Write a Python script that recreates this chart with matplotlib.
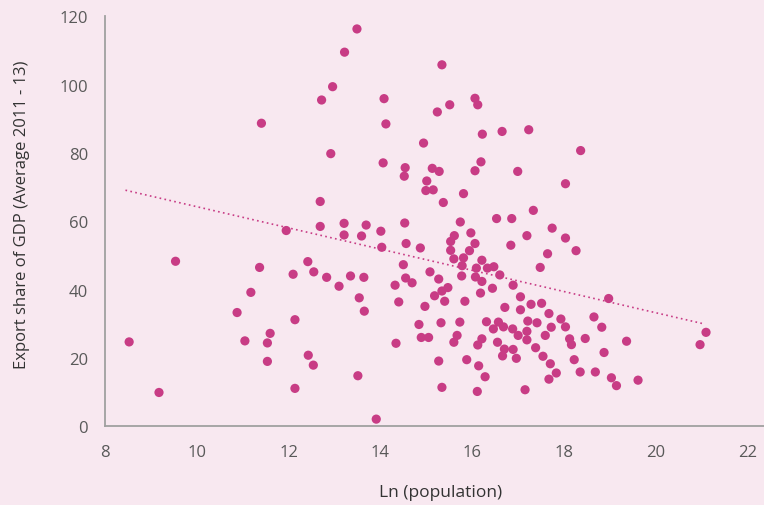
import numpy as np
import matplotlib
matplotlib.use("Agg")
import matplotlib.pyplot as plt

# Ln(population)
ln_pop = [
    8.53, 9.18, 9.54, 11.41, 12.72, 12.69, 11.95, 12.69, 11.37, 12.42,
    12.10, 12.55, 12.83, 11.18, 10.88, 12.14, 11.60, 11.05, 11.54, 11.54,
    12.43, 12.54, 12.14, 13.49, 13.22, 15.34, 12.96, 14.08, 15.51, 15.24,
    16.06, 16.12, 14.12, 16.22, 16.65, 17.23, 14.94, 12.92, 14.06, 14.54,
    14.52, 15.13, 15.28, 16.19, 16.06, 16.99, 15.01, 14.99, 15.15, 15.81,
    15.37, 17.33, 13.21, 13.69, 13.21, 13.59, 14.01, 14.03, 14.53, 14.56,
    14.87, 15.74, 16.53, 16.86, 15.61, 15.53, 15.97, 16.06, 15.94, 15.53,
    15.81, 15.60, 15.78, 16.21, 16.09, 16.33, 16.47, 16.60, 17.19, 16.84,
    17.64, 17.48, 17.74, 13.10, 13.35, 13.64, 13.54, 13.65, 14.50, 14.55,
    14.69, 14.32, 14.40, 15.08, 15.27, 14.97, 15.18, 15.34, 15.47, 15.40,
    15.77, 16.07, 16.21, 16.18, 16.44, 16.89, 15.84, 17.05, 16.71, 17.05,
    17.28, 17.51, 17.67, 14.84, 15.32, 15.73, 16.31, 16.57, 16.46, 16.68,
    16.88, 17.21, 17.41, 17.19, 17.00, 17.59, 17.72, 14.89, 15.05, 15.67,
    15.60, 16.21, 16.12, 16.55, 16.70, 16.89, 17.19, 17.38, 16.66, 16.96,
    17.54, 17.70, 14.34, 15.27, 15.88, 16.14, 16.28, 13.51, 15.34, 16.11,
    17.15, 17.67, 13.91, 18.03, 18.26, 18.97, 17.93, 18.65, 18.03, 18.82,
    18.12, 18.16, 18.46, 19.36, 18.87, 18.22, 17.83, 18.35, 18.68, 19.03,
    19.14, 19.61, 21.09, 20.96, 18.36, 18.03,
]

# Export share of GDP (average 2011-13)
export_share = [
    24.7, 9.9, 48.3, 88.7, 95.5, 65.8, 57.3, 58.5, 46.5, 48.2,
    44.5, 45.2, 43.6, 39.2, 33.3, 31.2, 27.2, 25.0, 24.4, 19.0,
    20.8, 17.9, 11.1, 116.3, 109.5, 105.8, 99.4, 95.9, 94.1, 92.0,
    96.0, 94.1, 88.5, 85.5, 86.3, 86.8, 82.9, 79.8, 77.1, 75.7,
    73.2, 75.5, 74.6, 77.4, 74.8, 74.6, 71.8, 69.0, 69.2, 68.1,
    65.5, 63.2, 59.4, 58.9, 56.0, 55.7, 57.1, 52.4, 59.5, 53.5,
    52.2, 59.8, 60.8, 60.8, 55.8, 54.1, 56.6, 53.5, 51.4, 51.5,
    49.3, 49.0, 47.0, 48.6, 46.3, 46.3, 46.7, 44.3, 55.8, 53.0,
    50.5, 46.5, 58.0, 41.0, 44.0, 43.6, 37.6, 33.7, 47.3, 43.4,
    42.0, 41.3, 36.4, 45.2, 43.1, 35.1, 38.2, 39.6, 40.6, 36.6,
    44.0, 43.7, 42.4, 39.0, 40.4, 41.3, 36.6, 37.9, 34.8, 34.1,
    35.7, 36.0, 33.0, 29.8, 30.3, 30.5, 30.6, 30.5, 28.5, 29.1,
    28.5, 30.8, 30.3, 27.8, 26.6, 26.6, 29.0, 26.0, 26.0, 26.6,
    24.6, 25.6, 23.8, 24.6, 22.6, 22.5, 25.3, 23.0, 20.6, 19.9,
    20.5, 18.3, 24.3, 19.1, 19.5, 17.7, 14.5, 14.8, 11.4, 10.2,
    10.7, 13.8, 2.1, 55.1, 51.4, 37.4, 31.4, 32.0, 29.1, 29.0,
    25.6, 23.9, 25.7, 24.9, 21.6, 19.5, 15.6, 15.9, 15.9, 14.2,
    11.9, 13.5, 27.5, 23.9, 80.7, 71.0,
]

# Linear trend line end points
trend_x = [8.45, 21.07]
trend_y = [69.1, 29.9]

x_ticks = [8, 10, 12, 14, 16, 18, 20, 22]
y_ticks = [0, 20, 40, 60, 80, 100, 120]

BG = "#f8e8f0"
PT = "#c83c85"

plt.rcParams['font.family'] = ['Open Sans', 'DejaVu Sans']

fig = plt.figure(figsize=(7.64, 5.06), dpi=100, facecolor=BG)
ax = fig.add_axes([104.8 / 764, 1 - 427.3 / 506, (764 - 104.8) / 764, 410 / 506])
ax.set_facecolor(BG)

ax.scatter(ln_pop, export_share, s=44, color=PT, edgecolors='none', zorder=3)
ax.plot(trend_x, trend_y, color=PT, lw=1.2, linestyle=(0, (1, 2)), zorder=2)

ax.set_xlim(8, 8 + (764 - 104.8) / 45.93)
ax.set_ylim(0, 120)
ax.set_xticks(x_ticks)
ax.set_yticks(y_ticks)
ax.tick_params(length=0, labelsize=12, labelcolor="#595959")
ax.tick_params(axis='y', pad=12)
ax.tick_params(axis='x', pad=13)

for s in ['top', 'right']:
    ax.spines[s].set_visible(False)
for s in ['left', 'bottom']:
    ax.spines[s].set_color("#a0a0a0")
    ax.spines[s].set_linewidth(1.3)

fig.text(22 / 764, 1 - 215 / 506, "Export share of GDP (Average 2011 - 13)",
         rotation=90, ha='center', va='center', fontsize=12, color="#333333")
fig.text(441 / 764, 1 - 493 / 506, "Ln (population)",
         ha='center', va='center', fontsize=12.5, color="#333333")

fig.savefig("out.png", dpi=100, facecolor=BG)
